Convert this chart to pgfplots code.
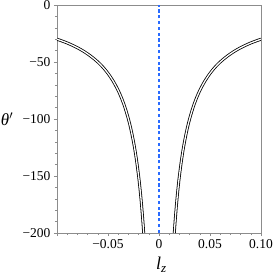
\documentclass[border=0pt]{standalone}
\usepackage{fontspec}
\setmainfont{Liberation Serif}
\usepackage{pgfplots}
\pgfplotsset{compat=1.18}
\definecolor{mblue}{rgb}{0.16,0.42,1}
\begin{document}
\begin{tikzpicture}
\begin{axis}[name=ax, scale only axis, width=204pt, height=228pt,
  xmin=-0.1, xmax=0.1, ymin=-200, ymax=0,
  axis line style={draw=gray!90},
  every tick/.style={gray!90, line width=0.5pt},
  tick align=outside, xtick pos=left, ytick pos=left,
  major tick length=3pt, minor tick length=2pt,
  minor x tick num=4, minor y tick num=4,
  xtick={-0.1,-0.05,0,0.05,0.1}, xticklabels={,\textrm{−0.05},\textrm{0},\textrm{0.05},\textrm{0.10}},
  ytick={-200,-150,-100,-50,0}, yticklabels={\textrm{−200},\textrm{−150},\textrm{−100},\textrm{−50},\textrm{0}},
  tick label style={font=\fontsize{13.5}{15}\selectfont},
  ylabel style={rotate=-90, at={(axis description cs:-0.245,0.5)}, anchor=center},
  xlabel style={at={(axis description cs:0.51,-0.138)}, anchor=center},
  ylabel={\fontsize{17}{19}\selectfont\textit{θ}$'$},
  xlabel={\fontsize{18}{20}\selectfont\textit{l}\raisebox{-0.35ex}{\fontsize{13}{14}\selectfont\textit{z}}},
  clip=true]
\addplot[mblue, line width=1.3pt, dash pattern=on 3.2pt off 2.6pt] coordinates {(0,-200) (0,0)};
\addplot[black, line width=0.8pt, double=white, double distance=1.3pt, smooth] coordinates {
(0.015,-200) (0.0155,-193.5) (0.016,-187.5) (0.017,-176.5) (0.018,-166.7) (0.019,-157.9)
(0.02,-150) (0.022,-136.4) (0.024,-125) (0.026,-115.4) (0.028,-107.1) (0.03,-100)
(0.033,-90.9) (0.036,-83.3) (0.04,-75) (0.045,-66.7) (0.05,-60) (0.055,-54.5)
(0.06,-50) (0.065,-46.2) (0.07,-42.9) (0.075,-40) (0.08,-37.5) (0.085,-35.3)
(0.09,-33.3) (0.095,-31.6) (0.1,-30)};
\addplot[black, line width=0.8pt, double=white, double distance=1.3pt, smooth] coordinates {
(-0.015,-200) (-0.0155,-193.5) (-0.016,-187.5) (-0.017,-176.5) (-0.018,-166.7) (-0.019,-157.9)
(-0.02,-150) (-0.022,-136.4) (-0.024,-125) (-0.026,-115.4) (-0.028,-107.1) (-0.03,-100)
(-0.033,-90.9) (-0.036,-83.3) (-0.04,-75) (-0.045,-66.7) (-0.05,-60) (-0.055,-54.5)
(-0.06,-50) (-0.065,-46.2) (-0.07,-42.9) (-0.075,-40) (-0.08,-37.5) (-0.085,-35.3)
(-0.09,-33.3) (-0.095,-31.6) (-0.1,-30)};
\end{axis}
\pgfresetboundingbox
\path ([xshift=-57pt,yshift=-43pt]ax.south west) rectangle ([xshift=12pt,yshift=5pt]ax.north east);
\end{tikzpicture}
\end{document}
